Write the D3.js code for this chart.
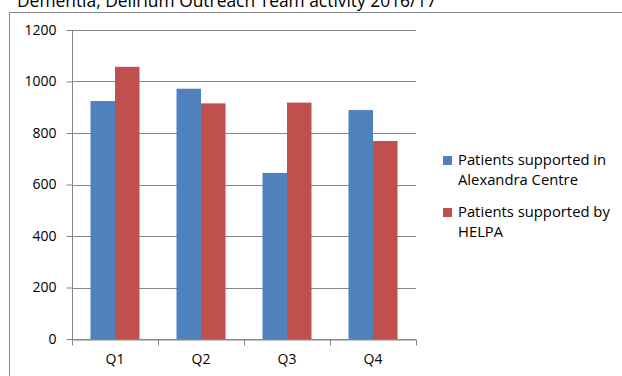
<!DOCTYPE html>
<html>
<head>
<meta charset="utf-8">
<script src="https://cdn.jsdelivr.net/npm/d3@7"></script>
<style>
  html, body { margin: 0; padding: 0; background: #fff; }
  svg { display: block; }
  text { font-family: "Open Sans", "Liberation Sans", sans-serif; fill: #000; }
</style>
</head>
<body>
<svg id="chart" width="622" height="376"></svg>
<script>
// Quarterly activity, 2016/17
const quarters = ["Q1", "Q2", "Q3", "Q4"];
const seriesNames = ["Patients supported in Alexandra Centre", "Patients supported by HELPA"];
const legendLines = [["Patients supported in", "Alexandra Centre"], ["Patients supported by", "HELPA"]];
const alexandraCentre = [924, 972, 645, 889];
const helpa = [1057, 915, 918, 769];
const yTicks = [0, 200, 400, 600, 800, 1000, 1200];
const colors = ["#4F81BD", "#C0504D"];
const titleText = "Dementia, Delirium Outreach Team activity 2016/17";

const svg = d3.select("#chart");
const axisColor = "#868686";

// Outer chart frame
svg.append("path")
  .attr("d", "M9.5,376 V12.5 H622")
  .attr("fill", "none")
  .attr("stroke", axisColor)
  .attr("stroke-width", 1);

// Title (sits above the frame, clipped by the top edge)
svg.append("text")
  .attr("x", 17)
  .attr("y", 7)
  .attr("font-size", 17.4)
  .text(titleText);

const plot = { left: 72, right: 416, top: 30, bottom: 339 };

const x = d3.scaleBand().domain(quarters).range([plot.left, plot.right]);
const xInner = d3.scaleBand().domain([0, 1]).range([0, 49]);
const y = d3.scaleLinear().domain([0, 1200]).range([plot.bottom, plot.top]);

// Horizontal gridlines
svg.append("g")
  .selectAll("line")
  .data(yTicks)
  .join("line")
  .attr("x1", plot.left)
  .attr("x2", plot.right)
  .attr("y1", d => Math.round(y(d)) + 0.5)
  .attr("y2", d => Math.round(y(d)) + 0.5)
  .attr("stroke", axisColor)
  .attr("stroke-width", 1);

// Bars
const series = [alexandraCentre, helpa];
const groups = svg.append("g");
quarters.forEach((q, i) => {
  const gx = x(q) + (x.bandwidth() - 49) / 2;
  series.forEach((vals, s) => {
    groups.append("rect")
      .attr("x", gx + xInner(s))
      .attr("y", y(vals[i]))
      .attr("width", xInner.bandwidth())
      .attr("height", y(0) - y(vals[i]))
      .attr("fill", colors[s]);
  });
});

// Y axis
const yAxis = d3.axisLeft(y).tickValues(yTicks).tickSize(6).tickPadding(10).tickFormat(d3.format("d"));
const gy = svg.append("g")
  .attr("transform", `translate(${plot.left + 0.5},0)`)
  .call(yAxis);
gy.select(".domain").attr("stroke", axisColor).attr("d", `M0,${plot.top}V${plot.bottom + 0.5}`);
gy.selectAll(".tick line").attr("stroke", axisColor);
gy.selectAll(".tick text").attr("font-size", 14).attr("font-family", "Open Sans, sans-serif").attr("fill", "#000");

// X axis
const xAxis = d3.axisBottom(x).tickSize(0).tickPadding(15);
const gx = svg.append("g")
  .attr("transform", `translate(0,${plot.bottom + 0.5})`)
  .call(xAxis);
gx.select(".domain").attr("stroke", axisColor);
gx.selectAll(".tick text").attr("font-size", 14).attr("font-family", "Open Sans, sans-serif").attr("fill", "#000");
// Category boundary ticks
gx.append("g")
  .selectAll("line")
  .data(quarters.concat(["end"]))
  .join("line")
  .attr("x1", (d, i) => Math.round(i < quarters.length ? x(d) : plot.right) + 0.5)
  .attr("x2", (d, i) => Math.round(i < quarters.length ? x(d) : plot.right) + 0.5)
  .attr("y1", 0)
  .attr("y2", 6)
  .attr("stroke", axisColor);

// Legend
const legend = svg.append("g").attr("transform", "translate(443,0)");
const legendTops = [156, 208];
seriesNames.forEach((name, s) => {
  const g = legend.append("g").attr("transform", `translate(0,${legendTops[s]})`);
  g.append("rect").attr("width", 9).attr("height", 9).attr("fill", colors[s]);
  legendLines[s].forEach((line, j) => {
    g.append("text")
      .attr("x", 15)
      .attr("y", 9 + j * 20)
      .attr("font-size", 14.8)
      .text(line);
  });
});
</script>
</body>
</html>
